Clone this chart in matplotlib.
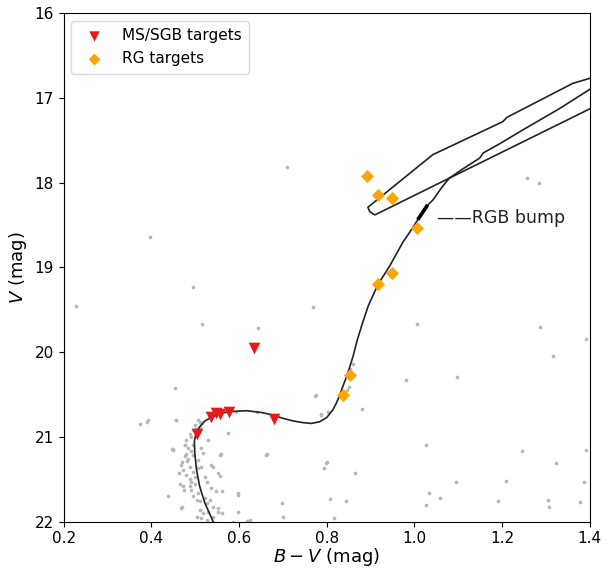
import numpy as np
import matplotlib
matplotlib.use("Agg")
import matplotlib.pyplot as plt

# isochrone (MS -> SGB -> RGB)
iso_bv = [0.541, 0.522, 0.510, 0.503, 0.499, 0.498, 0.502, 0.510, 0.522, 0.540,
          0.560, 0.579, 0.617, 0.650, 0.677, 0.700, 0.723, 0.745, 0.765, 0.784,
          0.800, 0.814, 0.822, 0.830, 0.837, 0.848, 0.860, 0.870, 0.882, 0.895,
          0.917, 0.944, 0.974, 0.990, 1.005, 1.024, 1.043, 1.062, 1.079, 1.107,
          1.149, 1.157, 1.195, 1.25, 1.33, 1.40]
iso_v = [22.0, 21.78, 21.58, 21.39, 21.19, 21.05, 20.95, 20.88, 20.81, 20.76,
         20.72, 20.70, 20.69, 20.71, 20.74, 20.78, 20.81, 20.83, 20.84, 20.82,
         20.77, 20.68, 20.60, 20.50, 20.40, 20.25, 20.05, 19.85, 19.65, 19.45,
         19.20, 18.98, 18.70, 18.58, 18.46, 18.30, 18.20, 18.06, 17.95, 17.85,
         17.71, 17.65, 17.54, 17.37, 17.13, 16.90]

# horizontal branch / AGB loop
hb_bv = [1.40, 0.910, 0.906, 0.898, 0.894, 1.042, 1.202, 1.211, 1.361, 1.40]
hb_v = [17.13, 18.38, 18.37, 18.34, 18.29, 17.67, 17.28, 17.23, 16.83, 16.77]

bump_bv = [1.010, 1.028]
bump_v = [18.42, 18.28]

# field / cluster stars
field_bv = [0.709, 0.396, 0.494, 0.229, 0.768, 0.516, 0.643, 1.005, 1.286, 1.391,
            1.317, 0.980, 1.098, 0.453, 0.775, 0.880, 1.257, 1.284, 0.373, 0.392,
            0.456, 0.786, 0.804, 0.450, 0.664, 1.027, 1.246, 1.391, 1.323, 0.801,
            0.793, 0.865, 1.094, 1.208, 1.387, 1.033, 1.058, 1.191, 1.304, 1.377,
            1.027, 1.308, 0.808, 0.844, 0.817, 0.697, 0.701, 0.597, 0.438, 0.469,
            0.618, 0.575, 0.559, 0.859, 0.853, 0.851, 0.847, 0.390, 0.499, 0.507,
            0.510, 0.494, 0.480, 0.476, 0.449, 0.640, 0.594, 0.662, 0.788, 0.773,
            0.799, 0.457, 0.510, 0.448, 0.476, 0.484, 0.491, 0.495, 0.514, 0.518,
            0.476, 0.484, 0.495, 0.506, 0.556, 0.468, 0.472, 0.487, 0.495, 0.506,
            0.514, 0.537, 0.541, 0.480, 0.487, 0.499, 0.491, 0.522, 0.552, 0.556,
            0.472, 0.487, 0.491, 0.499, 0.506, 0.526, 0.537, 0.548, 0.560, 0.495,
            0.503, 0.510, 0.522, 0.526, 0.533, 0.541, 0.552, 0.598, 0.468, 0.510,
            0.518, 0.529, 0.552, 0.560, 0.503, 0.514, 0.526, 0.541, 0.598, 0.624,
            0.586, 0.488, 0.479, 0.470, 0.462, 0.466, 0.474, 0.481, 0.490, 0.502,
            0.515, 0.530]
field_v = [17.82, 18.64, 19.23, 19.45, 19.47, 19.67, 19.71, 19.67, 19.70, 19.84,
           20.05, 20.33, 20.29, 20.42, 20.51, 20.67, 17.95, 18.00, 20.85, 20.80,
           20.80, 20.73, 20.70, 21.14, 21.20, 21.10, 21.17, 21.15, 21.31, 21.29,
           21.37, 21.43, 21.53, 21.52, 21.53, 21.66, 21.72, 21.76, 21.74, 21.77,
           21.80, 21.83, 21.73, 21.75, 21.96, 21.78, 21.94, 21.66, 21.70, 21.82,
           21.99, 20.95, 21.20, 20.14, 20.20, 20.41, 20.45, 20.82, 20.86, 20.80,
           20.88, 20.92, 21.03, 21.09, 21.15, 20.70, 20.70, 21.21, 20.74, 20.52,
           21.31, 20.80, 20.82, 21.14, 21.09, 21.13, 21.17, 21.10, 21.13, 21.19,
           21.23, 21.26, 21.21, 21.27, 21.21, 21.33, 21.39, 21.35, 21.41, 21.37,
           21.35, 21.33, 21.35, 21.45, 21.49, 21.47, 21.53, 21.47, 21.43, 21.46,
           21.58, 21.58, 21.62, 21.56, 21.66, 21.53, 21.60, 21.64, 21.64, 21.70,
           21.74, 21.76, 21.72, 21.78, 21.74, 21.82, 21.84, 21.68, 21.84, 21.86,
           21.90, 21.88, 21.88, 21.90, 21.94, 21.96, 21.98, 21.94, 21.88, 21.98,
           22.00, 20.97, 21.20, 21.30, 21.42, 21.55, 21.62, 21.28, 21.00, 20.90,
           20.84, 21.04]

# targets
ms_bv = [0.503, 0.535, 0.548, 0.556, 0.576, 0.679, 0.634]
ms_v = [20.96, 20.77, 20.72, 20.73, 20.70, 20.79, 19.95]

rg_bv = [0.891, 0.918, 0.948, 1.007, 0.948, 0.917, 0.853, 0.836]
rg_v = [17.92, 18.15, 18.18, 18.54, 19.07, 19.19, 20.27, 20.51]

fig = plt.figure(figsize=(6.13, 5.69), dpi=100)
ax = fig.add_axes([0.104, 0.083, 0.858, 0.894])

ax.scatter(field_bv, field_v, s=7, color='#b8b8b8', linewidths=0, zorder=1)
ax.plot(iso_bv, iso_v, color='#222222', lw=1.2, zorder=2)
ax.plot(hb_bv, hb_v, color='#222222', lw=1.2, zorder=2)
ax.plot(bump_bv, bump_v, color='black', lw=2.6, zorder=2)

ax.scatter(ms_bv, ms_v, marker='v', s=70, color='#e8191a', linewidths=0,
           zorder=3, label='MS/SGB targets')
ax.scatter(rg_bv, rg_v, marker='D', s=45, color='orange', linewidths=0,
           zorder=3, label='RG targets')

ax.text(1.052, 18.42, '——RGB bump', fontsize=12.5, va='center', color='#222222')

ax.set_xlim(0.2, 1.4)
ax.set_ylim(22, 16)
ax.set_xticks([0.2, 0.4, 0.6, 0.8, 1.0, 1.2, 1.4])
ax.set_yticks([16, 17, 18, 19, 20, 21, 22])
ax.tick_params(labelsize=11)
ax.set_xlabel(r'$B-V$ (mag)', fontsize=13, labelpad=0)
ax.set_ylabel(r'$V$ (mag)', fontsize=13)

ax.legend(loc='upper left', fontsize=11, scatterpoints=1, markerscale=0.9,
          borderpad=0.5, handletextpad=0.8)

fig.savefig('out.png', dpi=100)
